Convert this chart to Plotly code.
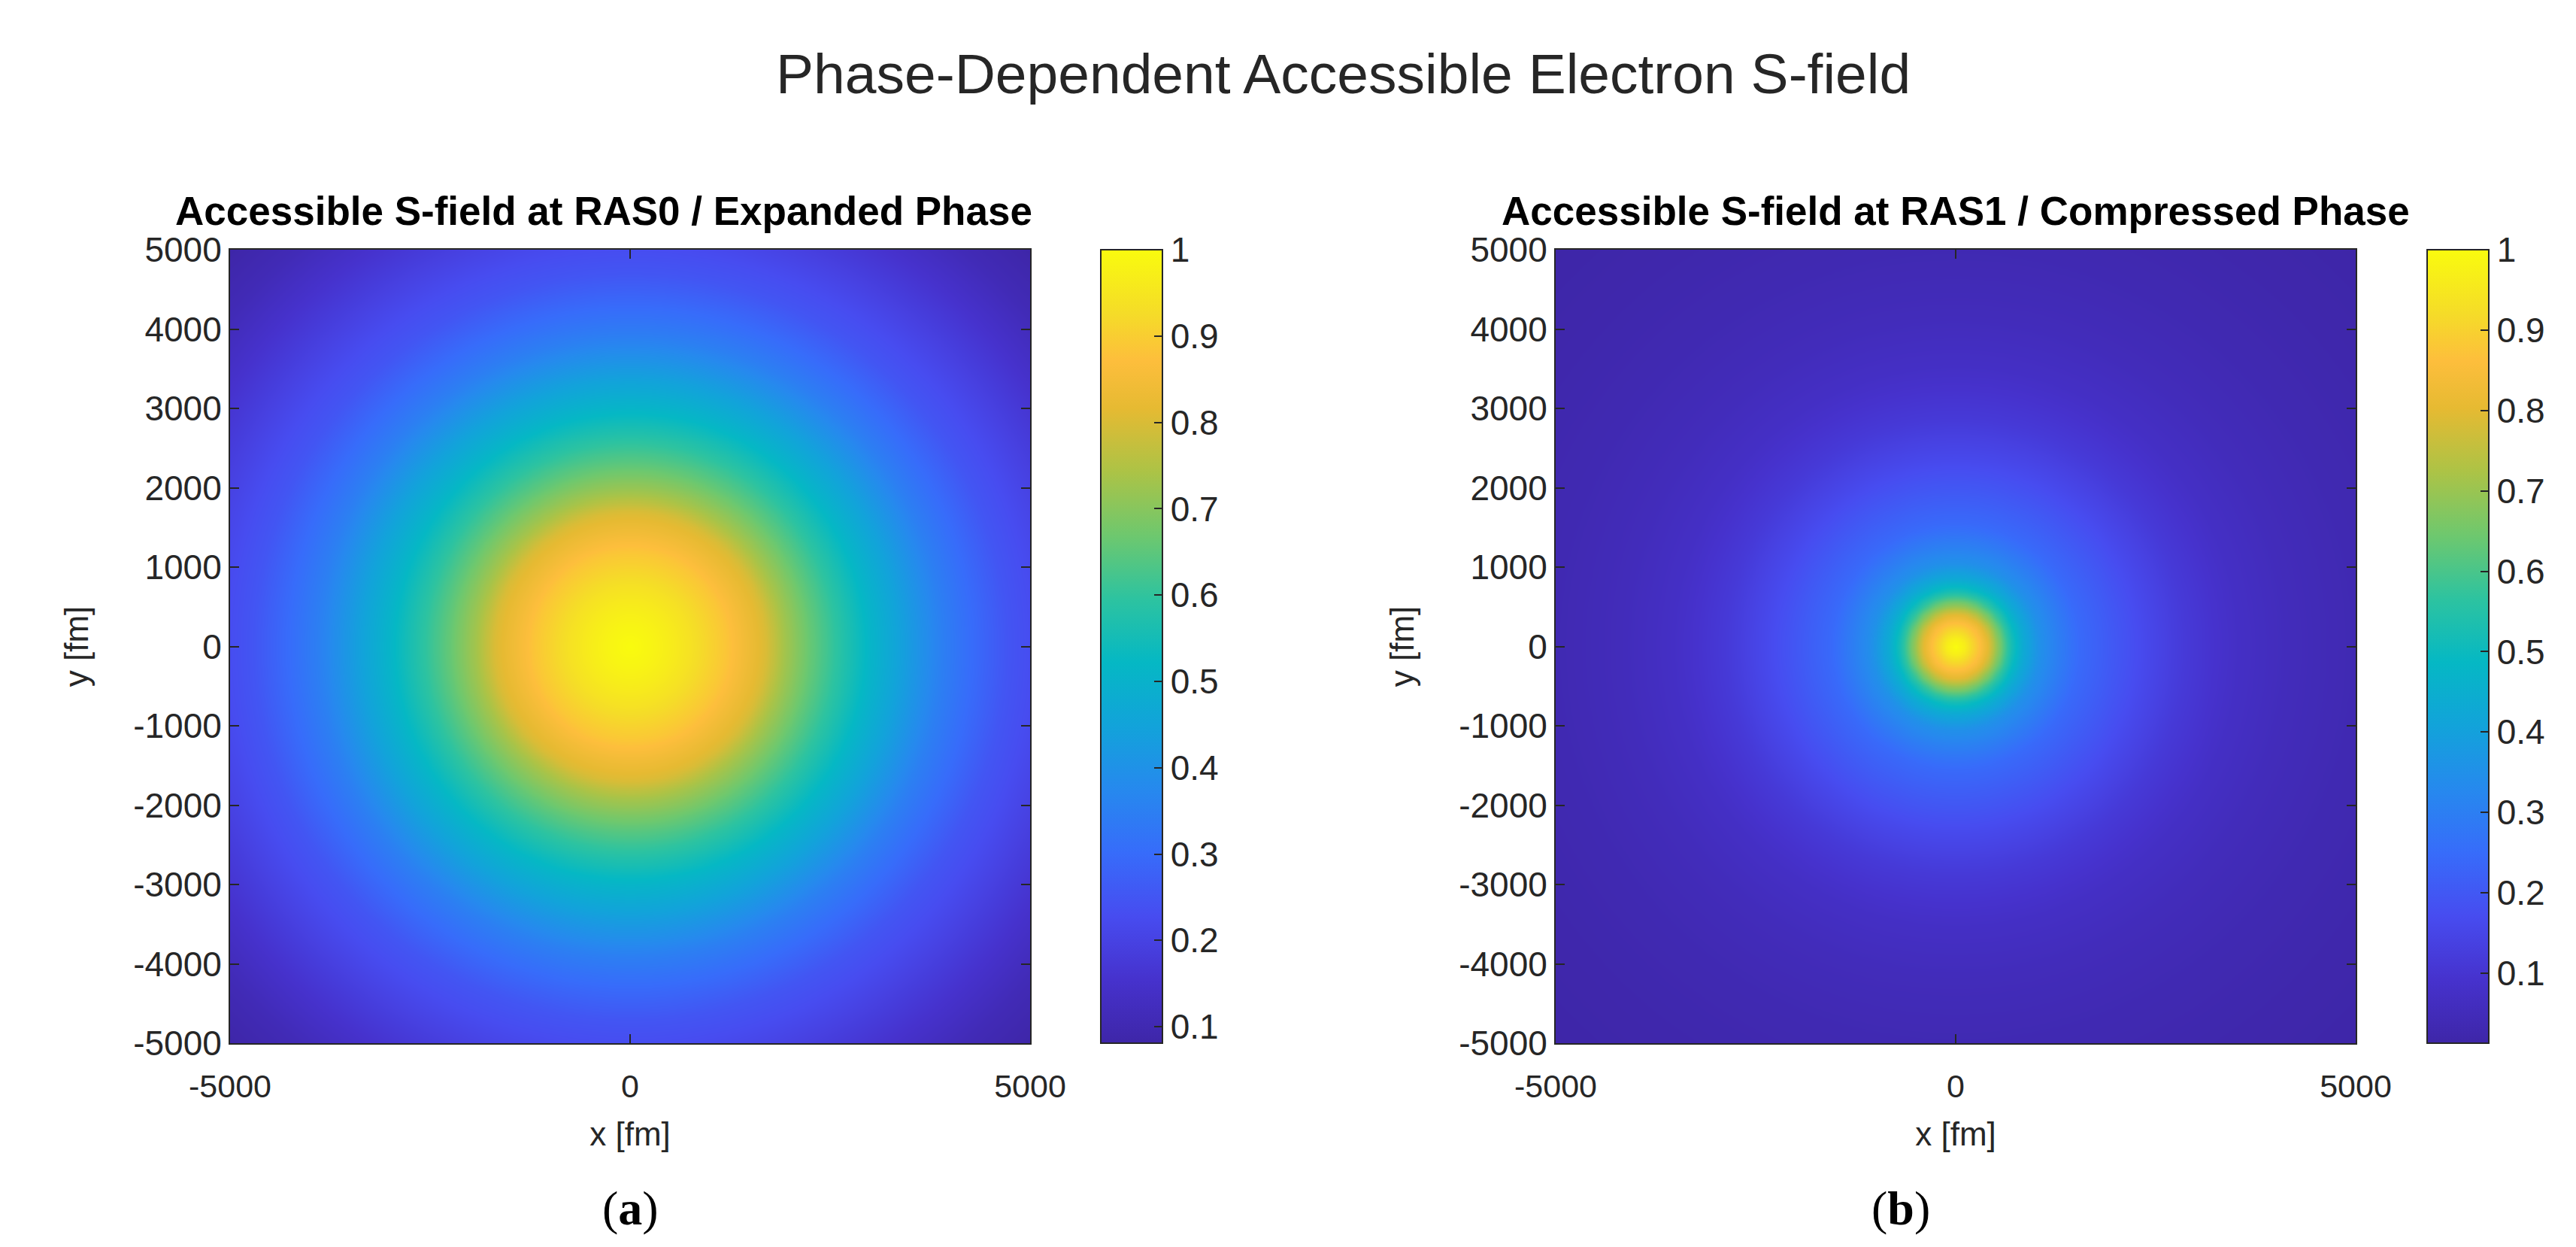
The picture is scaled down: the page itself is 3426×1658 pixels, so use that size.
import numpy as np
import plotly.graph_objects as go

# ---------------- data ----------------
grid_fm = list(range(-5000, 5001, 50))
x_ticks = [-5000, 0, 5000]
x_tick_text = ["-5000", "0", "5000"]
y_ticks = [-5000, -4000, -3000, -2000, -1000, 0, 1000, 2000, 3000, 4000, 5000]
y_tick_text = ["-5000", "-4000", "-3000", "-2000", "-1000", "0", "1000", "2000", "3000", "4000", "5000"]
cbar_ticks = [0.1, 0.2, 0.3, 0.4, 0.5, 0.6, 0.7, 0.8, 0.9, 1.0]
cbar_labels = ["0.1", "0.2", "0.3", "0.4", "0.5", "0.6", "0.7", "0.8", "0.9", "1"]

# radial profiles of the accessible S-field (radius in fm -> normalised value)
radius_ras0 = [0, 250, 500, 750, 1200, 1400, 1700, 1900, 2250, 2700, 3000, 3400, 3900, 4200, 4700, 5000, 5500, 6000, 6500, 7071]
s_ras0 = [1.00, 0.985, 0.965, 0.94, 0.885, 0.85, 0.80, 0.74, 0.66, 0.57, 0.51, 0.44, 0.35, 0.31, 0.25, 0.23, 0.19, 0.15, 0.11, 0.081]

radius_ras1 = [0, 100, 225, 325, 425, 525, 630, 730, 850, 1050, 1280, 1540, 1880, 2370, 2870, 3520, 4180, 5000, 6000, 7071]
s_ras1 = [1.00, 0.97, 0.90, 0.85, 0.78, 0.68, 0.58, 0.50, 0.43, 0.35, 0.30, 0.245, 0.21, 0.16, 0.115, 0.075, 0.052, 0.035, 0.022, 0.013]

titles = ["Accessible S-field at RAS0 / Expanded Phase",
          "Accessible S-field at RAS1 / Compressed Phase"]
main_title = "Phase-Dependent Accessible Electron S-field"
panel_labels = ["a", "b"]

# ---------------- build grids ----------------
gx = np.array(grid_fm, dtype=float)
XX, YY = np.meshgrid(gx, gx)
RR = np.sqrt(XX ** 2 + YY ** 2)
z_a = np.interp(RR, radius_ras0, s_ras0)
z_b = np.interp(RR, radius_ras1, s_ras1)

parula = [
    [0.000, "rgb(62,38,168)"],
    [0.080, "rgb(70,50,205)"],
    [0.160, "rgb(71,76,240)"],
    [0.240, "rgb(55,108,250)"],
    [0.320, "rgb(38,137,238)"],
    [0.400, "rgb(18,163,218)"],
    [0.480, "rgb(5,184,196)"],
    [0.560, "rgb(45,195,160)"],
    [0.640, "rgb(110,200,110)"],
    [0.720, "rgb(172,195,70)"],
    [0.800, "rgb(230,186,50)"],
    [0.860, "rgb(253,190,60)"],
    [0.920, "rgb(245,220,40)"],
    [1.000, "rgb(249,251,14)"],
]

W, H = 3426, 1658
def fx(px):
    return px / W
def fy(py):
    return 1 - py / H

FONT = "Liberation Sans, Arial, sans-serif"
DARK = "#262626"

plot_top, plot_bot = 332, 1387
panels = [
    dict(x0=306, x1=1370, cb=1464, z=z_a, zmin=min(s_ras0), zmax=max(s_ras0), tx=803, lx=838),
    dict(x0=2069, x1=3133, cb=3228, z=z_b, zmin=min(s_ras1), zmax=max(s_ras1), tx=2601, lx=2528),
]

fig = go.Figure()
for i, p in enumerate(panels):
    sfx = "" if i == 0 else str(i + 1)
    fig.add_trace(go.Heatmap(
        x=grid_fm, y=grid_fm, z=p["z"], zmin=p["zmin"], zmax=p["zmax"],
        colorscale=parula, zsmooth="best",
        xaxis="x" + sfx, yaxis="y" + sfx,
        colorbar=dict(
            x=fx(p["cb"]), xanchor="left", xref="paper",
            y=fy(plot_bot), yanchor="bottom",
            len=(plot_bot - plot_top) / H, lenmode="fraction",
            thickness=82, thicknessmode="pixels",
            outlinewidth=2, outlinecolor=DARK,
            tickvals=cbar_ticks, ticktext=cbar_labels,
            ticks="inside", ticklen=12, tickwidth=2, tickcolor=DARK,
            tickfont=dict(family=FONT, size=46, color=DARK),
            xpad=0, ypad=0,
        ),
        hoverinfo="skip",
    ))
    axis_common = dict(
        showline=True, linecolor=DARK, linewidth=2, mirror="ticks",
        ticks="inside", ticklen=12, tickwidth=2, tickcolor=DARK,
        showgrid=False, zeroline=False, automargin=False,
        range=[-5000, 5000],
    )
    fig.update_layout(**{
        "xaxis" + sfx: dict(axis_common, domain=[fx(p["x0"]), fx(p["x1"])],
                            anchor="y" + sfx, tickvals=x_ticks, ticktext=x_tick_text,
                            ticklabelstandoff=18,
                            tickfont=dict(family=FONT, size=43, color=DARK),
                            title=dict(text="x [fm]", font=dict(family=FONT, size=44, color=DARK), standoff=26)),
        "yaxis" + sfx: dict(axis_common, domain=[fy(plot_bot), fy(plot_top)],
                            anchor="x" + sfx, tickvals=y_ticks, ticktext=y_tick_text,
                            tickfont=dict(family=FONT, size=46, color=DARK),
                            title=dict(text="y [fm]", font=dict(family=FONT, size=44, color=DARK), standoff=46)),
    })
    fig.add_annotation(text="<b>" + titles[i] + "</b>", x=fx(p["tx"]), y=fy(280),
                       xref="paper", yref="paper", showarrow=False,
                       xanchor="center", yanchor="middle",
                       font=dict(family=FONT, size=53, color="#000000"))
    fig.add_annotation(text="(<b>" + panel_labels[i] + "</b>)", x=fx(p["lx"]), y=fy(1606),
                       xref="paper", yref="paper", showarrow=False,
                       xanchor="center", yanchor="middle",
                       font=dict(family="Liberation Serif, serif", size=64, color="#000000"))

fig.add_annotation(text=main_title, x=fx(1787), y=fy(98), xref="paper", yref="paper",
                   showarrow=False, xanchor="center", yanchor="middle",
                   font=dict(family=FONT, size=75, color=DARK))

fig.update_layout(
    width=W, height=H, margin=dict(l=0, r=0, t=0, b=0, autoexpand=False),
    paper_bgcolor="white", plot_bgcolor="white", showlegend=False,
)
fig.write_html("out.html")
